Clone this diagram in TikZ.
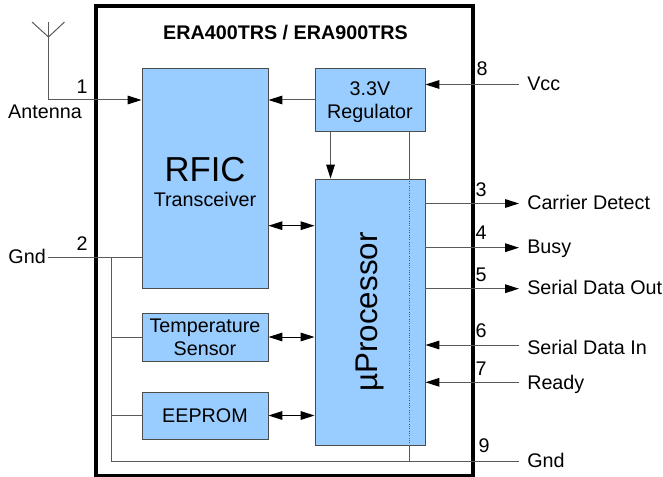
\documentclass[tikz,border=0pt]{standalone}
\usepackage{fontspec}
\setmainfont{Liberation Sans}
\usetikzlibrary{arrows.meta,calc}

\begin{document}
\begin{tikzpicture}[x=0.75pt, y=-0.75pt]
% Diagram style
\tikzset{
    blockbox/.style 2 args={draw=black!70, line width=0.7pt, fill={rgb,255:red,153;green,204;blue,255},
        minimum width=#1*0.75pt, minimum height=#2*0.75pt, inner sep=0pt, align=center,
        font=\fontsize{14.8}{17.5}\selectfont},
    wire/.style={draw=black!65, line width=0.75pt},
    sig/.style={wire, -{Triangle[length=10.5pt, width=6.5pt, color=black]}},
    bisig/.style={draw=black, line width=0.75pt, {Triangle[length=10.5pt, width=6.5pt]}-{Triangle[length=10.5pt, width=6.5pt]}},
    pinname/.style={anchor=west, inner sep=6pt, inner ysep=0pt, text height=10.6pt, text depth=1.5pt, font=\fontsize{14.8}{17}\selectfont},
    pinnum/.style={inner sep=0pt, font=\fontsize{14.8}{17}\selectfont}
}
\useasboundingbox (0, 0) rectangle (663, 477);

% Package outline
\draw[line width=3pt] (96, 6.5) rectangle (473, 475.5);
\node[inner sep=0pt, font=\bfseries\fontsize{14.8}{17}\selectfont] (TITLE) at (285.5, 33) {ERA400TRS / ERA900TRS};

% Nodes
\node[blockbox={126}{220}] (RFIC) at (205, 178.5) {\rule{0pt}{23pt}{\fontsize{26}{32}\selectfont RFIC}\\[1pt]Transceiver};
\node[blockbox={110}{63}] (REG) at (370, 100) {\rule{0pt}{13.7pt}3.3V\\Regulator};
\node[blockbox={110}{266}] (UP) at (370, 312) {\rotatebox{90}{\fontsize{23.5}{28}\selectfont µProcessor}};
\node[blockbox={126}{48}] (TEMP) at (205, 337) {Temperature\\Sensor};
\node[blockbox={126}{47}] (ROM) at (205, 415.5) {EEPROM};

% Pin labels
\node[pinname] (VCC) at (519, 84.5) {Vcc};
\node[pinname] (CD) at (519, 203.5) {Carrier Detect};
\node[pinname] (BUSY) at (519, 247.7) {Busy};
\node[pinname, text height=9.5pt] (SDO) at (519, 288.7) {Serial Data Out};
\node[pinname, text height=15.1pt] (SDI) at (519, 345) {Serial Data In};
\node[pinname, text height=12.1pt] (RDY) at (519, 382.3) {Ready};
\node[pinname] (GND2) at (519, 461.3) {Gnd};
\node[inner sep=0pt, font=\fontsize{14.8}{17}\selectfont] (ANT) at (45, 112) {Antenna};
\node[inner sep=0pt, anchor=east, font=\fontsize{14.8}{17}\selectfont] (GND1) at (46, 256) {Gnd};

% Pin numbers
\node[pinnum] (P1) at (82, 87) {1};
\node[pinnum] (P2) at (82, 244) {2};
\node[pinnum] (P3) at (481, 190) {3};
\node[pinnum] (P4) at (481, 233) {4};
\node[pinnum] (P5) at (481, 275) {5};
\node[pinnum] (P6) at (481, 331) {6};
\node[pinnum] (P7) at (481, 369) {7};
\node[pinnum] (P8) at (482, 69) {8};
\node[pinnum] (P9) at (484, 446) {9};

% Antenna
\coordinate (MAST) at (48.5, 37);
\coordinate (ARML) at (32, 22);
\coordinate (ARMR) at (64.5, 22);
\coordinate (ANTIN) at (48.5, 100);
\draw[wire] (ARML) -- (MAST) -- (ARMR);
\draw[wire] (48.5, 22) -- (ANTIN);
\draw[sig] (ANTIN) -- (RFIC.west |- ANTIN);

% Connections
\draw[sig] (REG.west) -- (RFIC.east |- REG.west);
\draw[sig] ([xshift=12pt]REG.south west) -- ([xshift=12pt]UP.north west);
\draw[bisig] (RFIC.east |- 0, 225.7) -- (UP.west |- 0, 225.7);
\draw[bisig] (TEMP.east) -- (UP.west |- TEMP.east);
\draw[bisig] (ROM.east) -- (UP.west |- ROM.east);

\draw[sig] (VCC.west) -- (REG.east |- VCC.west);
\draw[sig] (UP.east |- CD.west) -- (CD.west);
\draw[sig] (UP.east |- BUSY.west) -- (BUSY.west);
\draw[sig] (UP.east |- SDO.west) -- (SDO.west);
\draw[sig] (SDI.west) -- (UP.east |- SDI.west);
\draw[sig] (RDY.west) -- (UP.east |- RDY.west);

% Ground rail
\coordinate (RAIL) at (111, 257);
\draw[wire] ([xshift=1.5pt]GND1.east |- RAIL) -- (RFIC.west |- RAIL);
\draw[wire] (RAIL) -- (111, 461.3) -- (GND2.west);
\draw[wire] (RAIL |- TEMP.west) -- (TEMP.west);
\draw[wire] (RAIL |- ROM.west) -- (ROM.west);
\draw[wire] ([xshift=-12pt]REG.south east) -- ([xshift=-12pt]UP.north east);
\draw[wire, densely dotted] ([xshift=-12pt]UP.north east) -- ([xshift=-12pt]UP.south east);
\draw[wire] ([xshift=-12pt]UP.south east) -- ([xshift=-12pt]UP.south east |- GND2.west);
\end{tikzpicture}
\end{document}
